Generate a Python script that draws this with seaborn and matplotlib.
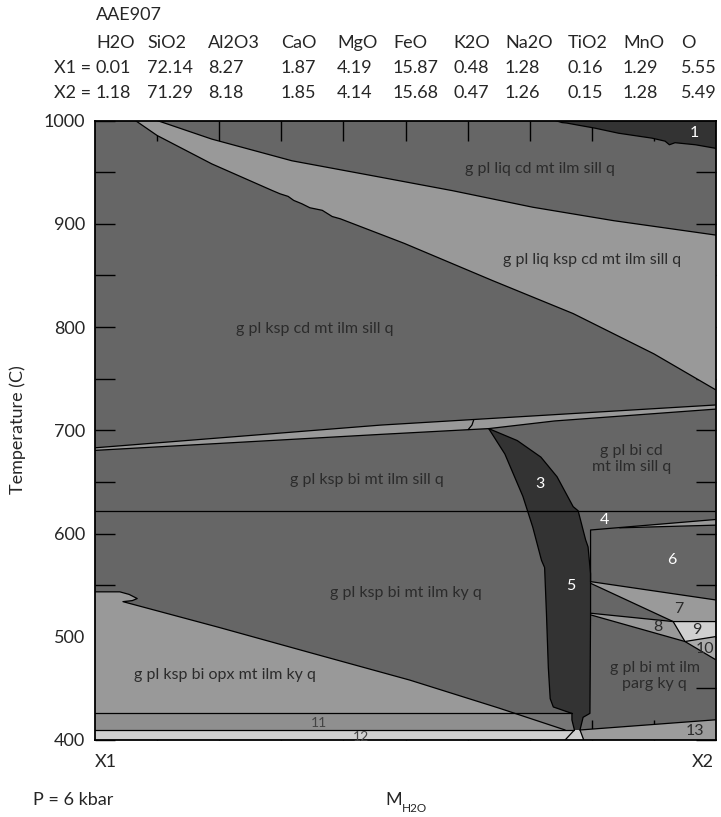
import numpy as np
import pandas as pd
import matplotlib
matplotlib.use("Agg")
import matplotlib.pyplot as plt
import seaborn as sns

# bulk compositions (mol %)
oxides = ["H2O", "SiO2", "Al2O3", "CaO", "MgO", "FeO", "K2O", "Na2O", "TiO2", "MnO", "O"]
comp_x1 = [0.01, 72.14, 8.27, 1.87, 4.19, 15.87, 0.48, 1.28, 0.16, 1.29, 5.55]
comp_x2 = [1.18, 71.29, 8.18, 1.85, 4.14, 15.68, 0.47, 1.26, 0.15, 1.28, 5.49]

# field boundaries, x = fraction X1->X2, t = temperature (C)
liq_up_x = [0.100, 0.188, 0.317, 0.447, 0.576, 0.705, 0.835, 1.0]
liq_up_t = [1000, 982, 961, 946.5, 932, 916, 903, 889]
liq_lo_x = [0.065, 0.100, 0.188, 0.285, 0.298, 0.311, 0.320, 0.333, 0.346, 0.366, 0.382, 0.395, 0.498, 0.640, 0.770, 0.900, 1.0]
liq_lo_t = [1000, 985.5, 958, 932.3, 929, 926.5, 922.6, 919.4, 915.5, 913, 907, 904.8, 881, 845, 813, 774, 739]

f1_x = [0.741, 0.752, 0.760, 0.778, 0.805, 0.843, 0.897, 0.918, 0.925, 0.934, 0.967, 1.0]
f1_t = [1000, 998, 997.5, 995.5, 992.6, 987.7, 982.9, 980, 976.5, 978.5, 976.5, 973]

band_top_x = [0.0, 0.46, 1.0]
band_top_t = [683, 705, 724.5]
band_bot_x = [0.0, 0.46, 0.634, 0.74, 1.0]
band_bot_t = [680.5, 696, 701.6, 709, 720.5]
kink_x = [0.610, 0.607, 0.601]
kink_t = [710.3, 705, 700.7]

sill_ky_t = 622

dark_l_x = [0.634, 0.660, 0.689, 0.705, 0.719, 0.724, 0.727, 0.730, 0.733, 0.738, 0.760, 0.768, 0.768, 0.772]
dark_l_t = [701.6, 677, 636, 606, 574, 567, 522, 470, 440, 432, 427.4, 425.8, 419.4, 409.7]
dark_r_x = [0.634, 0.680, 0.718, 0.744, 0.770, 0.778, 0.790, 0.794, 0.798, 0.798, 0.797, 0.786, 0.781]
dark_r_t = [701.6, 690, 674, 655, 626, 622, 594, 587, 561, 522, 425.8, 422, 409.7]

f4_x = [0.798, 0.798, 1.0]
f4_t = [553.4, 603.4, 613.6]
sliver_x = [0.845, 1.0]
sliver_t = [605.5, 608.1]
f7_top_x = [0.798, 1.0]
f7_top_t = [553.4, 535.6]
f7_bot_x = [0.798, 0.931, 1.0]
f7_bot_t = [551.8, 514.7, 514.7]
f9_x = [0.931, 0.950, 1.0]
f9_t = [514.7, 495.4, 500.2]
f8_top_x = [0.798, 0.931]
f8_top_t = [522.8, 514.7]
f8_bot_x = [0.798, 0.950, 1.0]
f8_bot_t = [521.2, 495.4, 477.6]

opx_x = [0.0, 0.040, 0.055, 0.068, 0.060, 0.045, 0.200, 0.350, 0.507, 0.650, 0.757]
opx_t = [543.5, 543.5, 541, 537, 535, 534, 509, 484, 458, 431, 409.7]

f11_t = 425.8
f12_t = 409.7
f13_x = [0.781, 1.0]
f13_t = [409.7, 419.6]

labels = [
    ("g pl liq cd mt ilm sill q", 0.717, 953, "#2b2b2b", 11.5),
    ("g pl liq ksp cd mt ilm sill q", 0.800, 864.5, "#2b2b2b", 11.5),
    ("g pl ksp cd mt ilm sill q", 0.354, 798.4, "#2b2b2b", 11.5),
    ("g pl ksp bi mt ilm sill q", 0.4385, 651.6, "#2b2b2b", 11.5),
    ("g pl bi cd\nmt ilm sill q", 0.864, 672, "#2b2b2b", 11.5),
    ("g pl ksp bi mt ilm ky q", 0.500, 542, "#2b2b2b", 11.5),
    ("g pl bi mt ilm\nparg ky q", 0.901, 462, "#2b2b2b", 11.5),
    ("g pl ksp bi opx mt ilm ky q", 0.209, 463, "#2b2b2b", 11.5),
    ("1", 0.965, 988, "white", 11.5),
    ("3", 0.717, 648.4, "white", 11.5),
    ("4", 0.821, 613.5, "white", 11.5),
    ("5", 0.766, 549, "white", 11.5),
    ("6", 0.929, 574, "white", 11.5),
    ("7", 0.940, 527.3, "#2b2b2b", 11.5),
    ("8", 0.907, 509.5, "#2b2b2b", 11.5),
    ("9", 0.969, 506.9, "#2b2b2b", 11.5),
    ("10", 0.983, 488.6, "#2b2b2b", 11.5),
    ("11", 0.360, 416.2, "#444444", 10),
    ("12", 0.429, 403.2, "#444444", 10),
    ("13", 0.966, 409, "#2b2b2b", 11.5),
]

sns.set_theme(style="ticks")
plt.rcParams["font.family"] = ["Lato", "DejaVu Sans"]

W, H = 721, 817
fig = plt.figure(figsize=(W / 100, H / 100), dpi=100)
ax = fig.add_axes([95 / W, 1 - 740 / H, 621 / W, 619.5 / H])
ax.set_facecolor("#666666")
ax.set_xlim(0, 1)
ax.set_ylim(400, 1000)

mid = "#666666"
light = "#999999"
dark = "#333333"
pale = "#d0d0d0"

# light liquid band
ax.fill(liq_up_x + liq_lo_x[::-1], liq_up_t + liq_lo_t[::-1], color=light, lw=0)
# field 1
ax.fill(f1_x + [1.0], f1_t + [1000], color=dark, lw=0)
# thin band near 700 C
ax.fill(band_top_x + band_bot_x[::-1], band_top_t + band_bot_t[::-1], color=light, lw=0)
# opx field bottom left
ax.fill(opx_x + [0.0], opx_t + [f12_t], color=light, lw=0)
# field 11
cross = np.interp(f11_t, opx_t[5:][::-1], opx_x[5:][::-1])
ax.fill([0, cross, 0.757, 0], [f11_t, f11_t, f12_t, f12_t], color="#8f8f8f", lw=0)
ax.fill([cross, 0.768, 0.772, 0.757], [f11_t, f11_t, f12_t, f12_t], color="#777777", lw=0)
# field 12 and 13
ax.fill([0, 0, 0.781, 0.787], [400, f12_t, f12_t, 400], color=pale, lw=0)
ax.fill([0.787, f13_x[0], f13_x[1], 1.0], [400, f13_t[0], f13_t[1], 400], color="#9c9c9c", lw=0)
# dark fields 3 and 5
ax.fill(dark_l_x + dark_r_x[::-1], dark_l_t + dark_r_t[::-1], color=dark, lw=0)
# small fields on the right
ax.fill([0.845, 1.0, 1.0], [605.5, 613.6, 608.1], color=light, lw=0)
ax.fill(f7_top_x + f7_bot_x[::-1], f7_top_t + [514.7, 514.7, 551.8], color="#9a9a9a", lw=0)
ax.fill(f8_top_x + [0.950, 0.798], f8_top_t + [495.4, 521.2], color="#999999", lw=0)
ax.fill([0.931, 1.0, 1.0, 0.950], [514.7, 514.7, 500.2, 495.4], color=pale, lw=0)
ax.fill([0.950, 1.0, 1.0], [495.4, 500.2, 477.6], color="#aaaaaa", lw=0)


def edge(xs, ts, lw=0.9):
    sns.lineplot(x=xs, y=ts, ax=ax, color="black", lw=lw, sort=False, estimator=None)


edge(liq_up_x, liq_up_t)
edge(liq_lo_x, liq_lo_t)
edge(f1_x, f1_t)
edge(band_top_x, band_top_t)
edge(band_bot_x, band_bot_t)
edge(kink_x, kink_t)
edge(dark_l_x, dark_l_t)
edge(dark_r_x, dark_r_t)
edge([0, 1], [sill_ky_t, sill_ky_t])
edge(f4_x, f4_t)
edge(sliver_x, sliver_t)
edge(f7_top_x, f7_top_t)
edge(f7_bot_x, f7_bot_t)
edge(f9_x, f9_t)
edge(f8_top_x, f8_top_t)
edge(f8_bot_x, f8_bot_t)
edge(opx_x, opx_t)
edge([0, 0.768], [f11_t, f11_t])
edge([0, 0.772], [f12_t, f12_t])
edge([0.757, 0.772], [400, f12_t])
edge([0.787, 0.781], [400, f12_t])
edge(f13_x, f13_t)

for txt, x, t, c, fs in labels:
    ax.text(x, t, txt, color=c, fontsize=fs, ha="center", va="center", linespacing=1.15)

ax.set_xticks(np.arange(0.1, 1.0, 0.1))
ax.set_xticklabels([])
ax.set_yticks(np.arange(400, 1001, 100))
ax.set_yticks(np.arange(450, 1000, 100), minor=True)
ax.tick_params(which="both", direction="in", length=14.4, width=1.0, color="black",
               top=True, right=True, labelsize=13, pad=7)
for s in ax.spines.values():
    s.set_linewidth(1.3)
    s.set_color("black")
ax.set_xlabel("")
ax.set_ylabel("")

# header with compositions
col_x = [96, 147, 208, 281, 337, 393, 453, 505, 568, 623, 681]
fig.text(96 / W, 1 - 15 / H, "AAE907", fontsize=13, va="center")
for cx, name, a, b in zip(col_x, oxides, comp_x1, comp_x2):
    fig.text(cx / W, 1 - 43 / H, name, fontsize=13, va="center")
    fig.text(cx / W, 1 - 68.3 / H, f"{a:.2f}", fontsize=13, va="center")
    fig.text(cx / W, 1 - 93.3 / H, f"{b:.2f}", fontsize=13, va="center")
fig.text(91 / W, 1 - 68.3 / H, "X1 =", fontsize=13, va="center", ha="right")
fig.text(91 / W, 1 - 93.3 / H, "X2 =", fontsize=13, va="center", ha="right")

# axis texts
fig.text(95 / W, 1 - 762 / H, "X1", fontsize=13, va="center")
fig.text(714 / W, 1 - 762 / H, "X2", fontsize=13, va="center", ha="right")
fig.text(113 / W, 1 - 800 / H, "P = 6 kbar", fontsize=13, va="center", ha="right")
fig.text(385 / W, 1 - 800 / H, "M", fontsize=13, va="center")
fig.text(402 / W, 1 - 808 / H, "H2O", fontsize=8.5, va="center")
fig.text(18 / W, 1 - 430 / H, "Temperature (C)", fontsize=13, va="center", ha="center", rotation=90)

fig.savefig("out.png", dpi=100)
